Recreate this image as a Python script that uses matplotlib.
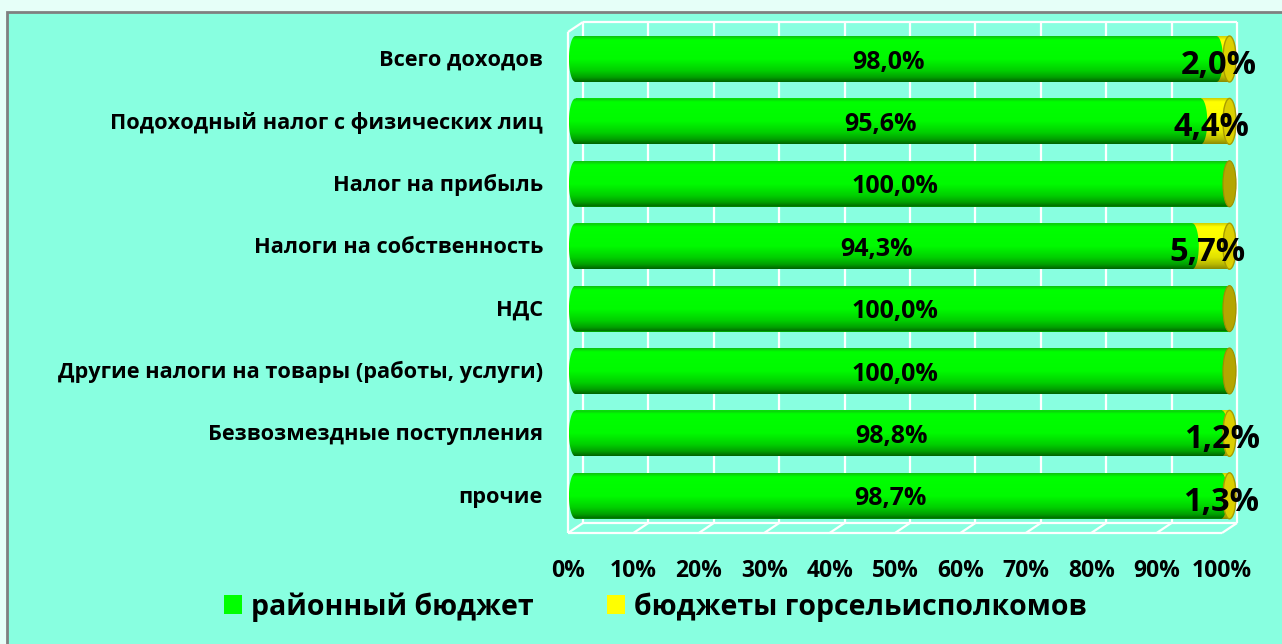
import numpy as np
import matplotlib
matplotlib.use('Agg')
import matplotlib.pyplot as plt
from matplotlib.path import Path
from matplotlib.patches import PathPatch, Ellipse, Rectangle
from matplotlib.colors import LinearSegmentedColormap

# ---------------- data ----------------
categories = [
    'Всего доходов',
    'Подоходный налог с физических лиц',
    'Налог на прибыль',
    'Налоги на собственность',
    'НДС',
    'Другие налоги на товары (работы, услуги)',
    'Безвозмездные поступления',
    'прочие',
]
district = [98.0, 95.6, 100.0, 94.3, 100.0, 100.0, 98.8, 98.7]
city = [2.0, 4.4, 0.0, 5.7, 0.0, 0.0, 1.2, 1.3]
ticks = [0, 10, 20, 30, 40, 50, 60, 70, 80, 90, 100]
series_names = ['районный бюджет', 'бюджеты горсельисполкомов']

def fmt(v):
    return f"{v:.1f}".replace('.', ',') + '%'

# ---------------- figure ----------------
W, H = 1282, 644
plt.rcParams['font.family'] = ['Open Sans', 'DejaVu Sans']
plt.rcParams['font.weight'] = 'bold'
fig = plt.figure(figsize=(W / 100, H / 100), dpi=100)
fig.patch.set_facecolor('#E6FFF8')
fig.patches.append(Rectangle((7 / W, -0.05), 1.1, (H - 12) / H + 0.05,
                             transform=fig.transFigure, facecolor='#88FFE0',
                             edgecolor='#808080', lw=2, zorder=-5))

L, R, T, B = 560, 1250, 15, 540
X0, SX = 575.5, 6.54      # px of value 0, px per unit
Y0, SY = 59.0, 62.4       # px of first bar centre, px per row
ax = fig.add_axes([L / W, 1 - B / H, (R - L) / W, (B - T) / H])
ax.set_facecolor('none')
xlim = ((L - X0) / SX, (R - X0) / SX)
ylim = ((B - Y0) / SY, (T - Y0) / SY)

def py(p):
    return (p - Y0) / SY

dxu = 7.5 / SX
wall = dict(color='white', lw=1.6, zorder=1, solid_capstyle='butt')
yb_top, yb_floor = py(22), py(523)
yf_top, yf_floor = py(32), py(533)
for t in ticks:
    ax.plot([t + dxu, t + dxu], [yb_top, yb_floor], **wall)
    ax.plot([t - dxu, t + dxu], [yf_floor, yb_floor], **wall)
ax.plot([dxu, 100 + dxu], [yb_top, yb_top], **wall)
ax.plot([-dxu, -dxu], [yf_top, yf_floor], **wall)
ax.plot([-dxu, dxu], [yf_top, yb_top], **wall)
ax.plot([-dxu, 100 - dxu], [yf_floor, yf_floor], **wall)
ax.plot([dxu, 100 + dxu], [yb_floor, yb_floor], **wall)

# ---------------- bars ----------------
h = 0.737
a = 1.0
ypos = np.arange(len(categories))
green_bars = ax.barh(ypos, district, height=h, color='#00FF00', zorder=2)
yellow_bars = ax.barh(ypos, city, left=district, height=h, color='#FFFF00', zorder=2)

gcmap = LinearSegmentedColormap.from_list('g', [
    (0.0, '#10C010'), (0.08, '#00FF00'), (0.5, '#00FA00'),
    (0.75, '#00D000'), (0.9, '#00A000'), (1.0, '#006400')])
ycmap = LinearSegmentedColormap.from_list('y', [
    (0.0, '#D0D000'), (0.08, '#FFFF00'), (0.5, '#FAFA00'),
    (0.75, '#E0E000'), (0.9, '#B8B800'), (1.0, '#8C8C00')])
grad = np.linspace(0, 1, 200).reshape(-1, 1)

def shape_path(x0, x1, yc, left_round, right_round):
    verts = []
    if left_round:
        th = np.linspace(np.pi / 2, 3 * np.pi / 2, 40)
        verts += list(zip(x0 + a * np.cos(th), yc + (h / 2) * np.sin(th)))
    else:
        verts += [(x0, yc + h / 2), (x0, yc - h / 2)]
    if right_round:
        th = np.linspace(-np.pi / 2, np.pi / 2, 40)
        verts += list(zip(x1 + a * np.cos(th), yc + (h / 2) * np.sin(th)))
    else:
        verts += [(x1, yc - h / 2), (x1, yc + h / 2)]
    verts.append(verts[0])
    codes = [Path.MOVETO] + [Path.LINETO] * (len(verts) - 2) + [Path.CLOSEPOLY]
    return Path(verts, codes)

def shade(path, cmap, x0, x1, yc, z):
    patch = PathPatch(path, facecolor='none', edgecolor='none', transform=ax.transData)
    ax.add_patch(patch)
    im = ax.imshow(grad, cmap=cmap, aspect='auto', origin='upper',
                   extent=[x0 - a, x1 + a, yc + h / 2, yc - h / 2],
                   zorder=z, interpolation='bilinear')
    im.set_clip_path(patch)

for gb, yb, yc in zip(green_bars, yellow_bars, ypos):
    gv = gb.get_width()
    yv = yb.get_width()
    end = gv + yv
    if yv > 0:
        shade(shape_path(gv, end, yc, False, False), ycmap, gv, end, yc, 3)
    shade(shape_path(0, gv, yc, True, yv > 0), gcmap, 0, gv, yc, 4)
    if yv > 0:
        ax.add_patch(Ellipse((end, yc), 2 * a, h, facecolor='#DCD000',
                             edgecolor='#A89C00', lw=1.0, zorder=5))
    else:
        ax.add_patch(Ellipse((end, yc), 2 * a, h, facecolor='#B4A600',
                             edgecolor='#9C8E00', lw=0.8, zorder=5))

# ---------------- labels ----------------
for gb, yb, yc in zip(green_bars, yellow_bars, ypos):
    gv = gb.get_width()
    yv = yb.get_width()
    ax.text(gv / 2 - dxu, yc + 0.05, fmt(gv), ha='center', va='center', fontsize=18,
            fontweight='bold', color='black', zorder=7)
    if yv > 0:
        ax.text(gv + yv / 2 - dxu * 0.5, yc + 0.1, fmt(yv), ha='center', va='center',
                fontsize=23.5, fontweight='bold', color='black', zorder=7)

for cat, yc in zip(categories, ypos):
    ax.text((543 - X0) / SX, yc + 0.02, cat, ha='right', va='center', fontsize=15.7,
            fontweight='bold', color='black')

for t in ticks:
    ax.text(t - dxu, py(571), f"{t}%", ha='center', va='center', fontsize=16.5,
            fontweight='bold', color='black')

ax.set_xlim(*xlim)
ax.set_ylim(*ylim)
ax.axis('off')

fig.legend([green_bars, yellow_bars], series_names, loc='center left',
           bbox_to_anchor=(210 / W, 1 - 607 / H), ncol=2, frameon=False,
           prop=dict(family=['Open Sans', 'DejaVu Sans'], weight='bold', size=20.5),
           handlelength=0.63, handleheight=0.63, handletextpad=0.3,
           columnspacing=2.6, borderpad=0)

fig.savefig('out.png', dpi=100, facecolor=fig.get_facecolor())
